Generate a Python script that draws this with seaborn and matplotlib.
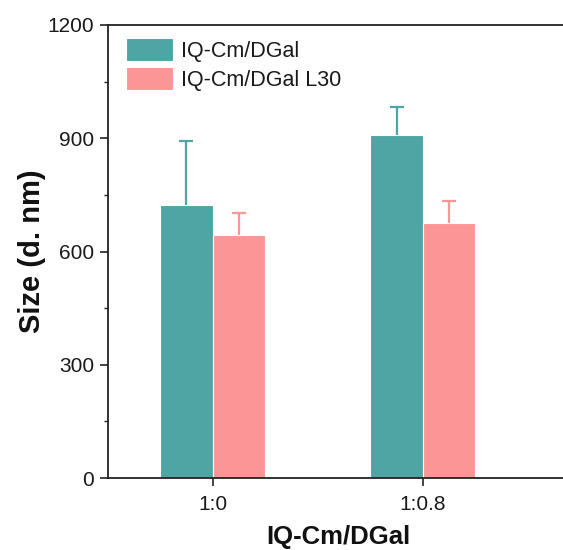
import matplotlib
matplotlib.use("Agg")
import matplotlib.pyplot as plt
import seaborn as sns
import pandas as pd
from matplotlib.ticker import MultipleLocator

categories = ["1:0", "1:0.8"]
series_names = ["IQ-Cm/DGal", "IQ-Cm/DGal L30"]
values_a = [722, 908]
values_b = [644, 675]
err_a = [171, 76]
err_b = [57, 60]
colors = ["#4EA5A4", "#FC9696"]

df = pd.DataFrame({
    "ratio": categories * 2,
    "series": [series_names[0]] * 2 + [series_names[1]] * 2,
    "size": values_a + values_b,
    "err": err_a + err_b,
})

sns.set_theme(style="ticks")
plt.rcParams["font.family"] = ["Liberation Sans", "DejaVu Sans"]

fig = plt.figure(figsize=(5.63, 5.5), dpi=100)
ax = fig.add_axes([108 / 563, 72 / 550, 460 / 563, 453 / 550])

sns.barplot(data=df, x="ratio", y="size", hue="series", order=categories,
            hue_order=series_names, palette=colors, width=0.5, gap=0,
            errorbar=None, saturation=1, edgecolor="white", linewidth=0.8,
            ax=ax, zorder=2)

for i, s in enumerate(series_names):
    sub = df[df["series"] == s]
    for j, cat in enumerate(categories):
        row = sub[sub["ratio"] == cat].iloc[0]
        bar = ax.containers[i][j]
        xc = bar.get_x() + bar.get_width() / 2
        _, caps, _ = ax.errorbar(xc, row["size"], yerr=[[0], [row["err"]]],
                                 fmt="none", ecolor=colors[i], elinewidth=1.6,
                                 capsize=5, capthick=1.6, zorder=1)
        caps[0].set_visible(False)

ax.set_xlim(-0.498, 1.69)
ax.set_ylim(0, 1200)
ax.yaxis.set_major_locator(MultipleLocator(300))
ax.yaxis.set_minor_locator(MultipleLocator(150))
ax.tick_params(axis="both", which="major", direction="out", length=6, width=1.2,
               labelsize=15, color="#222222", labelcolor="#1a1a1a")
ax.tick_params(axis="y", which="minor", direction="out", length=3, width=1.0,
               color="#222222")
ax.tick_params(axis="x", pad=6)
ax.tick_params(axis="y", pad=4)

for side in ["left", "bottom", "top"]:
    ax.spines[side].set_linewidth(1.3)
    ax.spines[side].set_color("#222222")
ax.spines["right"].set_visible(False)

ax.set_xlabel("IQ-Cm/DGal", fontsize=18.5, fontweight="bold", labelpad=8,
              color="#111111")
ax.set_ylabel("Size (d. nm)", fontsize=21, fontweight="bold", labelpad=1,
              color="#111111")

leg = ax.legend(loc="upper left", bbox_to_anchor=(0.01, 1.0), frameon=False,
                fontsize=15.5, handlelength=2.2, handleheight=1.25,
                labelspacing=0.25, handletextpad=0.4, borderaxespad=0.2)
for t in leg.get_texts():
    t.set_color("#1a1a1a")

fig.savefig("out.png", dpi=100)
